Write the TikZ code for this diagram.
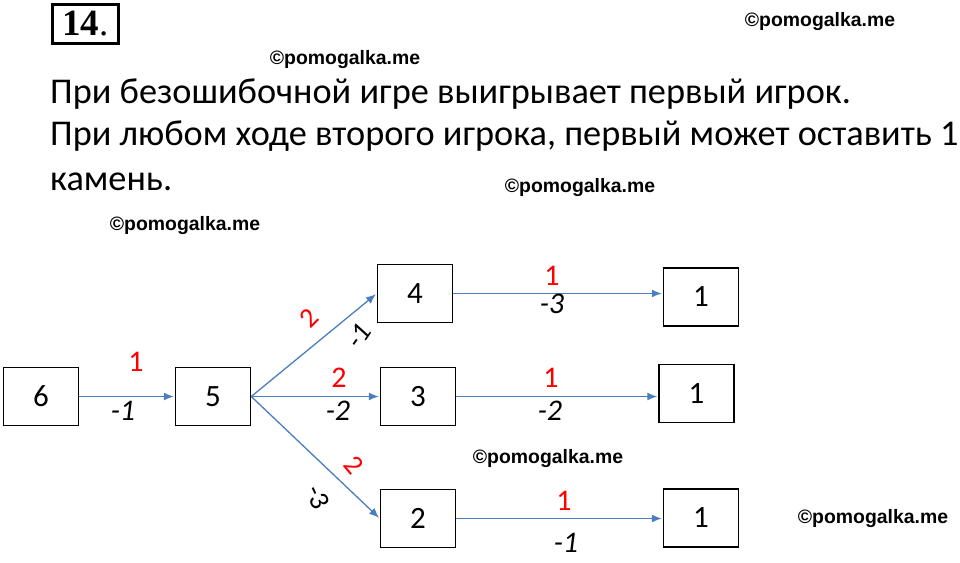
\documentclass[tikz,border=0pt]{standalone}
\usepackage{fontspec}
\setmainfont{Carlito}
\newfontfamily\wmfont{Liberation Sans}
\newfontfamily\titlefont{Liberation Serif}
\usetikzlibrary{arrows.meta}
\definecolor{arrowblue}{HTML}{4A7EC0}
\definecolor{lblred}{HTML}{FF0000}
\tikzset{
  box/.style={draw=black, line width=1.5pt, minimum width=75pt, minimum height=58pt, inner sep=0pt, font=\fontsize{31}{33}\selectfont},
  conn/.style={draw=arrowblue, line width=1.3pt, -{Latex[length=10pt,width=8pt]}, shorten >=1pt},
  rlbl/.style={text=lblred, font=\fontsize{30}{32}\selectfont, inner sep=0pt},
  blbl/.style={text=black, font=\fontsize{30}{32}\selectfont\itshape, inner sep=0pt},
  slant/.style={font=\fontsize{28}{30}\selectfont, inner sep=0pt},
  wm/.style={font=\wmfont\bfseries\fontsize{19.4}{21}\selectfont, inner sep=0pt},
  line/.style={anchor=base west, inner sep=0pt, font=\fontsize{36.3}{40}\selectfont}
}
\begin{document}
\begin{tikzpicture}[x=1pt,y=-1pt]
\useasboundingbox (0,0) rectangle (960,562);
% title
\node[draw=black, line width=2.5pt, minimum width=66pt, minimum height=39pt, inner sep=0pt, anchor=north west] (title) at (51,3) {\titlefont\fontsize{37}{38}\selectfont\raisebox{-1pt}{\textbf{14}.}};
% text
\node[line] (l1) at (50,103) {При безошибочной игре выигрывает первый игрок.};
\node[line] (l2) at (50,145) {При любом ходе второго игрока, первый может оставить 1};
\node[line] (l3) at (50,190) {камень.};
% watermarks
\node[wm] (w1) at (820,22) {©pomogalka.me};
\node[wm] (w2) at (345,60) {©pomogalka.me};
\node[wm] (w3) at (580,188) {©pomogalka.me};
\node[wm] (w4) at (185,226) {©pomogalka.me};
\node[wm] (w5) at (548,459) {©pomogalka.me};
\node[wm] (w6) at (873,519) {©pomogalka.me};
% boxes
\node[box] (n6) at (41,396.5) {6};
\node[box] (n5) at (213,396.5) {5};
\node[box] (n4) at (415,293.5) {4};
\node[box] (n3) at (418,396.5) {3};
\node[box] (n2) at (418,518.5) {2};
\node[box] (e4) at (701,297) {1};
\node[box] (e3) at (696.5,393.5) {1};
\node[box] (e2) at (701,518) {1};
% connectors
\draw[conn] (n6.east) -- (n5.west);
\draw[conn] (n5.east) -- (n4.west);
\draw[conn] (n5.east) -- (n3.west);
\draw[conn] (n5.east) -- (n2.west);
\draw[conn] (n4.east) -- (n4.east -| e4.west);
\draw[conn] (n3.east) -- (n3.east -| e3.west);
\draw[conn] (n2.east) -- (n2.east -| e2.west);
% labels
\node[rlbl] (a1) at (136,362) {1};
\node[blbl] (b1) at (123,411) {-1};
\node[rlbl, slant, rotate=45] (a2) at (309,318) {2};
\node[blbl, slant, font=\fontsize{28}{30}\selectfont\itshape, rotate=55] (b2) at (359,336) {-1};
\node[rlbl] (a3) at (339,378) {2};
\node[blbl] (b3) at (338,411) {-2};
\node[rlbl, slant, rotate=-50] (a4) at (354,465) {2};
\node[blbl, slant, rotate=-65] (b4) at (318,497) {-3};
\node[rlbl] (a5) at (552,276) {1};
\node[blbl] (b5) at (552,304) {-3};
\node[rlbl] (a6) at (551,378) {1};
\node[blbl] (b6) at (550,411) {-2};
\node[rlbl] (a7) at (564,501) {1};
\node[blbl] (b7) at (566,543) {-1};
\end{tikzpicture}
\end{document}
